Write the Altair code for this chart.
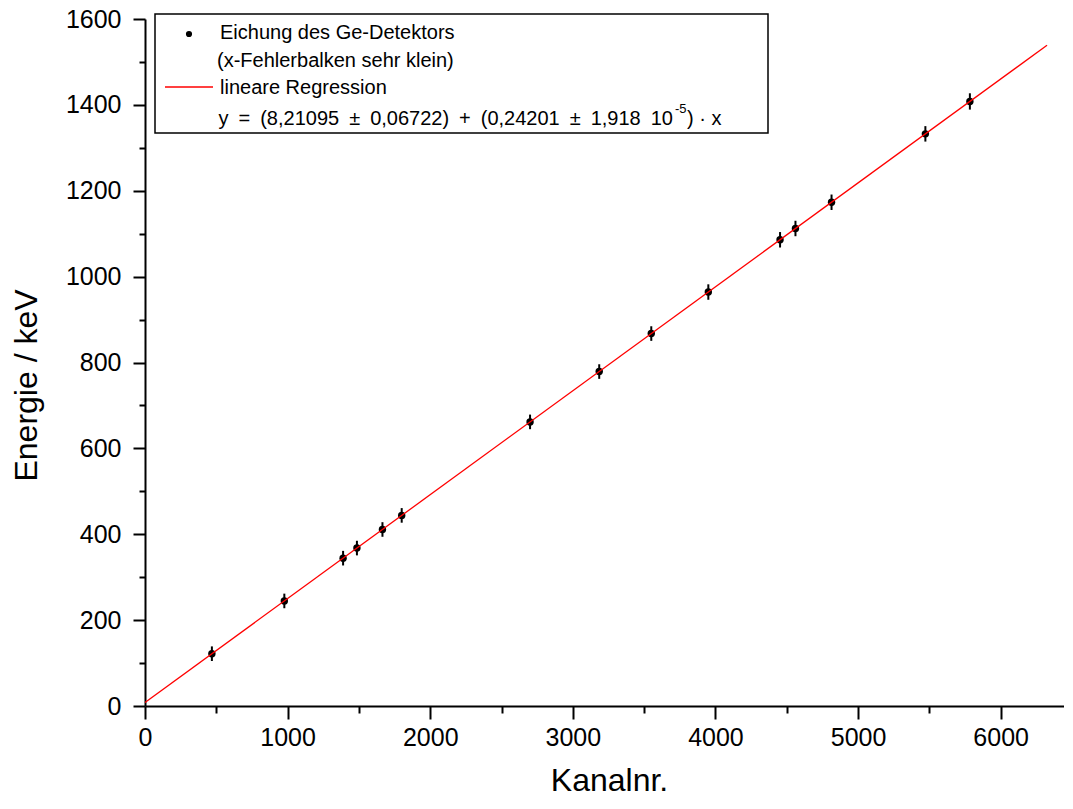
import altair as alt
import pandas as pd

# Calibration data (channel number vs. gamma energy)
kanal = [469, 977, 1389, 1486, 1665, 1800, 2700, 3185, 3550, 3950, 4453, 4561, 4814, 5472, 5784]
energie = [121.8, 244.7, 344.3, 367.8, 411.1, 443.9, 661.7, 778.9, 867.4, 964.1, 1085.8, 1112.1, 1173.2, 1332.5, 1408.0]
fehler = [17, 17, 17, 17, 17, 17, 17, 17, 17, 18, 18, 18, 18, 18, 19]

# Regression line endpoints
fit_x = [0, 6325]
fit_y = [8.21, 1538.9]

x_ticks = list(range(0, 6401, 500))
y_ticks = list(range(0, 1601, 100))

FONT = "Liberation Sans"

df = pd.DataFrame({"k": kanal, "e": energie, "lo": [e - f for e, f in zip(energie, fehler)],
                   "hi": [e + f for e, f in zip(energie, fehler)]})
fit = pd.DataFrame({"k": fit_x, "e": fit_y})

xs = alt.Scale(domain=[0, 6444], nice=False, zero=False)
ys = alt.Scale(domain=[0, 1600], nice=False, zero=False)

x_axis = alt.Axis(
    values=x_ticks, title="Kanalnr.", grid=False,
    labelExpr="datum.value % 1000 === 0 ? datum.label : ''",
    tickSize={"expr": "datum.value % 1000 === 0 ? 13 : 7"},
    tickWidth=2, tickColor="black", domainColor="black", domainWidth=2,
    labelFont=FONT, labelFontSize=25, labelColor="black", labelPadding=6, labelFlush=False,
    titleFont=FONT, titleFontSize=32, titleFontWeight="normal", titleColor="black",
    titleX=464, titleY=84, titleBaseline="alphabetic", titleAnchor="middle",
    format="d", labelOverlap=False,
)
y_axis = alt.Axis(
    values=y_ticks, title="Energie / keV", grid=False,
    labelExpr="datum.value % 200 === 0 ? datum.label : ''",
    tickSize={"expr": "datum.value % 200 === 0 ? 12 : 6"},
    tickWidth=2, tickColor="black", domainColor="black", domainWidth=2,
    labelFont=FONT, labelFontSize=25, labelColor="black", labelPadding=12, labelFlush=False,
    titleFont=FONT, titleFontSize=32, titleFontWeight="normal", titleColor="black",
    titleX=-119, titleY=366, titleBaseline="middle", titleAnchor="middle", titleAngle=-90,
    format="d", labelOverlap=False,
)

bars = alt.Chart(df).mark_rule(color="black", strokeWidth=2).encode(
    x=alt.X("k:Q", scale=xs, axis=x_axis),
    y=alt.Y("lo:Q", scale=ys, axis=y_axis),
    y2="hi:Q",
)
pts = alt.Chart(df).mark_circle(color="black", opacity=1, size=55).encode(
    x=alt.X("k:Q", scale=xs), y=alt.Y("e:Q", scale=ys)
)
line = alt.Chart(fit).mark_line(color="#ff0000", strokeWidth=1.3).encode(
    x=alt.X("k:Q", scale=xs), y=alt.Y("e:Q", scale=ys)
)

# Legend box (pixel layout)
leg_box = alt.Chart(pd.DataFrame({"a": [0]})).mark_rect(
    fill="white", stroke="black", strokeWidth=1.5
).encode(x=alt.value(10), x2=alt.value(623), y=alt.value(-5), y2=alt.value(114))

leg_dot = alt.Chart(pd.DataFrame({"a": [0]})).mark_circle(color="black", opacity=1, size=38).encode(
    x=alt.value(44), y=alt.value(15))
leg_line = alt.Chart(pd.DataFrame({"a": [0]})).mark_rule(color="#ff0000", strokeWidth=1.3).encode(
    x=alt.value(20), x2=alt.value(68), y=alt.value(68))

def txt(s, x, y, size=20, align="left"):
    return alt.Chart(pd.DataFrame({"a": [0]})).mark_text(
        text=s, font=FONT, fontSize=size, color="black", align=align, baseline="alphabetic"
    ).encode(x=alt.value(x), y=alt.value(y))

sp = "\u2002"
eq1 = f"y{sp}={sp}(8,21095{sp}±{sp}0,06722){sp}+{sp}(0,24201{sp}±{sp}1,918{sp}10"

legend_texts = [
    txt("Eichung des Ge-Detektors", 75, 20),
    txt("(x-Fehlerbalken sehr klein)", 72, 48),
    txt("lineare Regression", 75, 75),
    txt(eq1, 528, 106, align="right"),
    txt("-5", 530, 94, size=13),
    txt(") · x", 542, 106),
]

chart = alt.layer(bars, pts, line, leg_box, leg_dot, leg_line, *legend_texts).properties(
    width=919, height=687,
    padding={"left": 137, "top": 11, "right": 0, "bottom": 88},
    autosize=alt.AutoSizeParams(type="none"),
    view=alt.ViewBackground(strokeOpacity=0, strokeWidth=0),
).configure_view(strokeOpacity=0, strokeWidth=0).configure_axis(grid=False).configure(background="white")

chart.save("out.html", embed_options={"renderer": "svg", "actions": False})
